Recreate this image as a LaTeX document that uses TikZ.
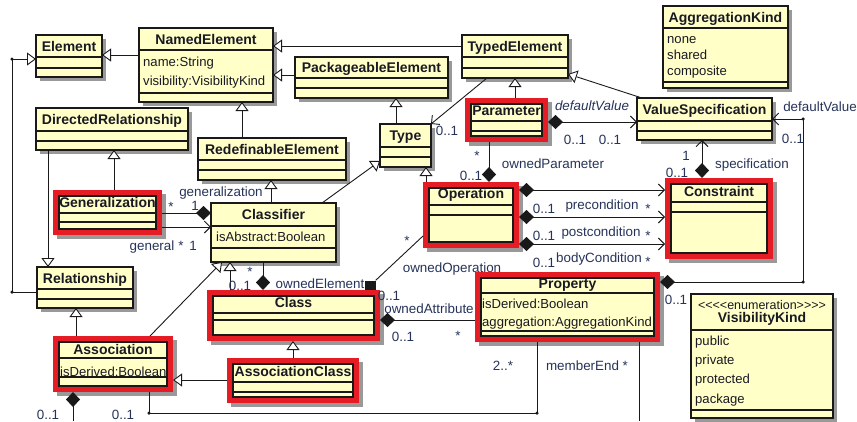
\documentclass[tikz,border=0pt]{standalone}
\usepackage{fontspec}
\setmainfont{Liberation Sans}
\newfontfamily\stereofont{Liberation Sans}[Ligatures=TeXOff]
\usepackage{tikz}
\usetikzlibrary{arrows.meta,fit,shadows}

\begin{document}
\begin{tikzpicture}[x=1pt,y=-1pt,
  umlbox/.style={draw=cline,line width=1.5pt,fill=cbox,inner sep=0pt,outer sep=0pt,
    drop shadow={shadow xshift=3.5pt,shadow yshift=-3.5pt,fill=cshade,opacity=1}},
  hlbox/.style={draw=cline,line width=1.5pt,fill=cbox,inner sep=0pt,outer sep=0pt},
  hlframe/.style={draw=cred,line width=6pt,inner sep=3pt,outer sep=3pt,
    drop shadow={shadow xshift=3.5pt,shadow yshift=-3.5pt,fill=cshade,draw=cshade,line width=6pt,opacity=1}},
  ttl/.style={anchor=base,inner sep=0pt,text=ctext,font=\fontsize{14}{16}\selectfont\bfseries},
  att/.style={anchor=base west,inner sep=0pt,text=ctext,font=\fontsize{13.1}{15}\selectfont},
  lbl/.style={anchor=base,inner sep=0pt,text=clbl,font=\fontsize{13.4}{15}\selectfont},
  sep/.style={draw=cline,line width=1.2pt},
  conn/.style={draw=cline,line width=0.9pt},
  gen/.style={conn,-{Triangle[length=9pt,width=13pt,fill=white]}},
  nav/.style={conn,-{Straight Barb[length=6pt,width=12pt]}},
  comp/.style={conn,{Diamond[length=15pt,width=14pt]}-},
  dnav/.style={conn,{Diamond[length=15pt,width=14pt]}-{Straight Barb[length=6pt,width=12pt]}},
  dot/.style={circle,fill=cline,inner sep=0pt,minimum size=3.5pt}]
\definecolor{cbox}{rgb}{1.0,1.0,0.78}
\definecolor{cline}{rgb}{0.1,0.1,0.1}
\definecolor{ctext}{rgb}{0.1,0.1,0.14}
\definecolor{clbl}{rgb}{0.15,0.2,0.35}
\definecolor{cred}{rgb}{0.9,0.11,0.14}
\definecolor{cshade}{rgb}{0.6,0.6,0.6}
%
\useasboundingbox (0,0) rectangle (857,421);
%
\node[umlbox,fit={(36,35) (102,77)}] (elem) {};
\node[umlbox,fit={(139,28) (273,102)}] (named) {};
\node[umlbox,fit={(36,108) (188,150)}] (dirrel) {};
\node[umlbox,fit={(198,138) (346,180)}] (redef) {};
\node[umlbox,fit={(295,57) (448,98)}] (pkg) {};
\node[umlbox,fit={(462,35) (568,78)}] (typed) {};
\node[umlbox,fit={(380,124) (431,167)}] (type) {};
\node[umlbox,fit={(637,98) (772,140)}] (vspec) {};
\node[umlbox,fit={(663,6) (788,88)}] (aggkind) {};
\node[umlbox,fit={(211,203) (336,262)}] (classif) {};
\node[umlbox,fit={(37,267) (133,308)}] (rel) {};
\node[umlbox,fit={(691,294) (833,418)}] (viskind) {};
\node[hlframe,fit={(471,104) (542,136)}] (paramhl) {};
\node[hlbox,fit={(471,104) (542,136)}] (param) {};
\node[hlframe,fit={(59,196) (156,229)}] (genzhl) {};
\node[hlbox,fit={(59,196) (156,229)}] (genz) {};
\node[hlframe,fit={(429,188) (513,242)}] (operhl) {};
\node[hlbox,fit={(429,188) (513,242)}] (oper) {};
\node[hlframe,fit={(671,184) (767,253)}] (constrhl) {};
\node[hlbox,fit={(671,184) (767,253)}] (constr) {};
\node[hlframe,fit={(213,296) (374,335)}] (clshl) {};
\node[hlbox,fit={(213,296) (374,335)}] (cls) {};
\node[hlframe,fit={(481,278) (654,336)}] (prophl) {};
\node[hlbox,fit={(481,278) (654,336)}] (prop) {};
\node[hlframe,fit={(59,342) (167,386)}] (assochl) {};
\node[hlbox,fit={(59,342) (167,386)}] (assoc) {};
\node[hlframe,fit={(233,364) (353,397)}] (assocchl) {};
\node[hlbox,fit={(233,364) (353,397)}] (assocc) {};
%
\draw[sep] (elem.west |- 0,57) -- (elem.east |- 0,57) (elem.west |- 0,68) -- (elem.east |- 0,68);
\draw[sep] (named.west |- 0,50) -- (named.east |- 0,50) (named.west |- 0,93) -- (named.east |- 0,93);
\draw[sep] (dirrel.west |- 0,131) -- (dirrel.east |- 0,131) (dirrel.west |- 0,141) -- (dirrel.east |- 0,141);
\draw[sep] (redef.west |- 0,160) -- (redef.east |- 0,160) (redef.west |- 0,170) -- (redef.east |- 0,170);
\draw[sep] (pkg.west |- 0,78) -- (pkg.east |- 0,78) (pkg.west |- 0,88) -- (pkg.east |- 0,88);
\draw[sep] (typed.west |- 0,57) -- (typed.east |- 0,57) (typed.west |- 0,68) -- (typed.east |- 0,68);
\draw[sep] (type.west |- 0,147) -- (type.east |- 0,147) (type.west |- 0,157) -- (type.east |- 0,157);
\draw[sep] (vspec.west |- 0,121) -- (vspec.east |- 0,121) (vspec.west |- 0,131) -- (vspec.east |- 0,131);
\draw[sep] (aggkind.west |- 0,28) -- (aggkind.east |- 0,28) (aggkind.west |- 0,82) -- (aggkind.east |- 0,82);
\draw[sep] (classif.west |- 0,226) -- (classif.east |- 0,226) (classif.west |- 0,248) -- (classif.east |- 0,248);
\draw[sep] (rel.west |- 0,289) -- (rel.east |- 0,289) (rel.west |- 0,299) -- (rel.east |- 0,299);
\draw[sep] (viskind.west |- 0,330) -- (viskind.east |- 0,330) (viskind.west |- 0,410) -- (viskind.east |- 0,410);
\draw[sep] (param.west |- 0,121) -- (param.east |- 0,121) (param.west |- 0,131) -- (param.east |- 0,131);
\draw[sep] (genz.west |- 0,213) -- (genz.east |- 0,213) (genz.west |- 0,222) -- (genz.east |- 0,222);
\draw[sep] (oper.west |- 0,205) -- (oper.east |- 0,205) (oper.west |- 0,215) -- (oper.east |- 0,215);
\draw[sep] (constr.west |- 0,202) -- (constr.east |- 0,202) (constr.west |- 0,212) -- (constr.east |- 0,212);
\draw[sep] (cls.west |- 0,313) -- (cls.east |- 0,313) (cls.west |- 0,320) -- (cls.east |- 0,320);
\draw[sep] (prop.west |- 0,293) -- (prop.east |- 0,293) (prop.west |- 0,331) -- (prop.east |- 0,331);
\draw[sep] (assoc.west |- 0,358) -- (assoc.east |- 0,358) (assoc.west |- 0,377) -- (assoc.east |- 0,377);
\draw[sep] (assocc.west |- 0,382) -- (assocc.east |- 0,382) (assocc.west |- 0,392) -- (assocc.east |- 0,392);
%
\node[ttl] (elemt) at (elem.center |- 0,51) {Element};
\node[ttl] (namedt) at (named.center |- 0,44) {NamedElement};
\node[att] (nameda1) at (143,66.5) {name:String};
\node[att] (nameda2) at (143,85.5) {visibility:VisibilityKind};
\node[ttl] (dirrelt) at (dirrel.center |- 0,124.5) {DirectedRelationship};
\node[ttl] (redeft) at (redef.center |- 0,154) {RedefinableElement};
\node[ttl] (pkgt) at (pkg.center |- 0,72.5) {PackageableElement};
\node[ttl] (typedt) at (typed.center |- 0,51) {TypedElement};
\node[ttl] (typet) at (type.center |- 0,140.5) {Type};
\node[ttl] (vspect) at (vspec.center |- 0,114.5) {ValueSpecification};
\node[ttl] (aggkindt) at (aggkind.center |- 0,22) {AggregationKind};
\node[att] (aggkinda1) at (667,43) {none};
\node[att] (aggkinda2) at (667,59) {shared};
\node[att] (aggkinda3) at (667,75) {composite};
\node[ttl] (classift) at (classif.center |- 0,219.5) {Classifier};
\node[att] (classifa1) at (216,241.5) {isAbstract:Boolean};
\node[ttl] (relt) at (rel.center |- 0,283) {Relationship};
\node[lbl,text=ctext,font=\fontsize{12.5}{14}\stereofont] (viskinds) at (viskind.center |- 0,309) {<<<<enumeration>>>>};
\node[ttl] (viskindt) at (viskind.center |- 0,322) {VisibilityKind};
\node[att] (viskinda1) at (695,345.5) {public};
\node[att] (viskinda2) at (695,364.5) {private};
\node[att] (viskinda3) at (695,383.5) {protected};
\node[att] (viskinda4) at (695,403) {package};
\node[ttl] (paramt) at (param.center |- 0,115) {Parameter};
\node[ttl] (genzt) at (genz.center |- 0,207) {Generalization};
\node[ttl] (opert) at (oper.center |- 0,198) {Operation};
\node[ttl] (constrt) at (constr.center |- 0,196) {Constraint};
\node[ttl] (clst) at (cls.center |- 0,307) {Class};
\node[ttl] (propt) at (prop.center |- 0,288) {Property};
\node[att] (propa1) at (482,308.5) {isDerived:Boolean};
\node[att] (propa2) at (482,326.5) {aggregation:AggregationKind};
\node[ttl] (assoct) at (assoc.center |- 0,354) {Association};
\node[att] (assoca1) at (60,376.5) {isDerived:Boolean};
\node[ttl] (assocct) at (assocc.center |- 0,376) {AssociationClass};
%
\coordinate (b1) at (12,292);
\coordinate (b2) at (12,59);
\coordinate (b3) at (149,413);
\coordinate (b4) at (537,413);
\coordinate (b5) at (803,282);
\coordinate (b6) at (803,119);
\coordinate (e1) at (73,421);
\coordinate (e2) at (639,421);
\node[rectangle,fill=cline,inner sep=0pt,minimum width=11pt,minimum height=9pt] (sqm) at (370,285) {};
%
\draw[gen] (named.west |- 0,55) -- (elem.east |- 0,55);
\draw[gen] (rel.west |- 0,292) -- (b1) -- (b2) -- (elem.west |- 0,59);
\draw[gen] (typed.west |- 0,46) -- (named.east |- 0,46);
\draw[gen] (pkg.west |- 0,75) -- (named.east |- 0,75);
\draw[gen] (redef.north -| 242,0) -- (named.south -| 242,0);
\draw[gen] (dirrel.south -| 48,0) -- (rel.north -| 48,0);
\draw[gen] (genzhl.north -| 114,0) -- (dirrel.south -| 114,0);
\draw[gen] (classif.north -| 271,0) -- (redef.south -| 271,0);
\draw[gen] (classif.north -| 322,0) -- (type.west |- 0,161);
\draw[gen] (type.north -| 396,0) -- (pkg.south -| 396,0);
\draw[gen] (paramhl.north -| 515,0) -- (typed.south -| 515,0);
\draw[gen] (vspec.north -| 642,0) -- (typed.east |- 0,74);
\draw[gen] (operhl.north -| 426,0) -- (type.south -| 426,0);
\draw[gen] (clshl.north -| 230,0) -- (classif.south -| 230,0);
\draw[gen] (assochl.north -| 150,0) -- (classif.south -| 222,0);
\draw[gen] (assochl.north -| 76,0) -- (rel.south -| 76,0);
\draw[gen] (assocchl.north -| 293,0) -- (clshl.south -| 293,0);
\draw[gen] (assocchl.west |- 0,380) -- (assochl.east |- 0,380);
%
\draw[comp] (classif.west |- 0,213) -- (genzhl.east |- 0,213);
\draw[nav] (genzhl.east |- 0,227) -- (classif.west |- 0,227);
\draw[comp] (clshl.north -| 263,0) -- (classif.south -| 263,0);
\draw[conn] (sqm.north east) -- (operhl.west |- 0,236);
\draw[comp] (clshl.east |- 0,320) -- (prophl.west |- 0,320);
\draw[nav] (typed.south -| 487,0) -- (type.north east);
\draw[dnav] (paramhl.east |- 0,122) -- (vspec.west |- 0,122);
\draw[comp] (operhl.north -| 489,0) -- (paramhl.south -| 489,0);
\draw[dnav] (operhl.east |- 0,190) -- (constrhl.west |- 0,190);
\draw[dnav] (operhl.east |- 0,217) -- (constrhl.west |- 0,217);
\draw[dnav] (operhl.east |- 0,244) -- (constrhl.west |- 0,244);
\draw[dnav] (constrhl.north -| 702,0) -- (vspec.south -| 702,0);
\draw[dnav] (prophl.east |- 0,282) -- (b5) -- (b6) -- (vspec.east |- 0,119);
\draw[conn] (assochl.south -| 149,0) -- (b3) -- (b4) -- (prophl.south -| 537,0);
\draw[comp] (assochl.south -| 73,0) -- (e1);
\draw[conn] (prophl.south -| 639,0) -- (e2);
%
\node[dot] (d1) at (b1) {};
\node[dot] (d2) at (b2) {};
\node[dot] (d3) at (b3) {};
\node[dot] (d4) at (b4) {};
\node[dot] (d5) at (b5) {};
\node[dot] (d6) at (b6) {};
%
\node[lbl] (lgz1) at (171,211) {*};
\node[lbl] (lgz2) at (195,210) {1};
\node[lbl] (lgen1) at (152,250) {general};
\node[lbl] (lgen2) at (181,250) {*};
\node[lbl] (lgen3) at (193,250) {1};
\node[lbl] (lgenz) at (221,196) {generalization};
\node[lbl] (lown1) at (250,276) {*};
\node[lbl] (lown2) at (240,290) {0..1};
\node[lbl] (lown3) at (320,288) {ownedElement};
\node[lbl] (lop1) at (389,300) {0..1};
\node[lbl] (lop2) at (407,245) {*};
\node[lbl] (lop3) at (452,272) {ownedOperation};
\node[lbl] (lat1) at (429,313) {ownedAttribute};
\node[lbl] (lat2) at (403,341) {0..1};
\node[lbl] (lat3) at (458,340) {*};
\node[lbl] (ltyp) at (447,135) {0..1};
\node[lbl,font=\fontsize{13.4}{15}\selectfont\itshape] (ldv1) at (592,110) {defaultValue};
\node[lbl] (ldv2) at (575,144) {0..1};
\node[lbl] (ldv3) at (610,144) {0..1};
\node[lbl] (lpar1) at (477,160) {*};
\node[lbl] (lpar2) at (471,180) {0..1};
\node[lbl] (lpar3) at (553,168) {ownedParameter};
\node[lbl] (lpre1) at (544,213) {0..1};
\node[lbl] (lpre2) at (602,209) {precondition};
\node[lbl] (lpre3) at (648,213) {*};
\node[lbl] (lpost1) at (544,240) {0..1};
\node[lbl] (lpost2) at (601,236) {postcondition};
\node[lbl] (lpost3) at (648,240) {*};
\node[lbl] (lbody1) at (544,267) {0..1};
\node[lbl] (lbody2) at (599,262) {bodyCondition};
\node[lbl] (lbody3) at (648,266) {*};
\node[lbl] (lspec1) at (686,160) {1};
\node[lbl] (lspec2) at (677,177) {0..1};
\node[lbl] (lspec3) at (752,168) {specification};
\node[lbl] (ldef1) at (820,111) {defaultValue};
\node[lbl] (ldef2) at (793,143) {0..1};
\node[lbl] (ldef3) at (676,304) {0..1};
\node[lbl] (lme1) at (503,370) {2..*};
\node[lbl] (lme2) at (587,370) {memberEnd *};
\node[lbl] (las1) at (48,419) {0..1};
\node[lbl] (las2) at (123,419) {0..1};
%
\end{tikzpicture}
\end{document}
